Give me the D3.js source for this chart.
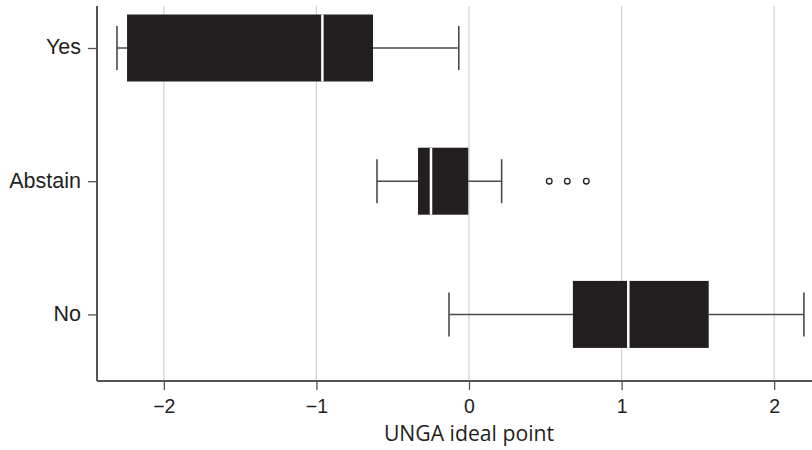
<!DOCTYPE html>
<html>
<head>
<meta charset="utf-8">
<script src="https://cdn.jsdelivr.net/npm/d3@7"></script>
<style>
  html, body { margin: 0; padding: 0; background: #fff; }
  svg { display: block; font-family: "Open Sans", "Noto Sans", sans-serif; }
</style>
</head>
<body>
<svg id="chart" width="812" height="450"></svg>
<script>
// Vote categories and their box-plot summaries of UNGA ideal points
const categories = ["Yes", "Abstain", "No"];
const whiskerLow = [-2.307, -0.603, -0.131];
const quartile1 = [-2.241, -0.334, 0.681];
const medians = [-0.961, -0.249, 1.044];
const quartile3 = [-0.629, -0.005, 1.571];
const whiskerHigh = [-0.067, 0.214, 2.195];
const outliers = [[], [0.526, 0.644, 0.769], []];
const xTicks = [-2, -1, 0, 1, 2];
const xTitle = "UNGA ideal point";

const svg = d3.select("#chart");
const plotLeft = 97, plotRight = 812, plotTop = 6, plotBottom = 381;

const x = d3.scaleLinear().domain([-2.438, 2.248]).range([plotLeft, plotRight]);
const y = d3.scalePoint().domain(categories).range([48, 314.4]);

const boxH = 67, capH = 44;
const ink = "#231f20", axisCol = "#555", gridCol = "#d0d0d0";

// vertical gridlines
svg.append("g").selectAll("line").data(xTicks).join("line")
  .attr("x1", d => x(d)).attr("x2", d => x(d))
  .attr("y1", plotTop).attr("y2", plotBottom)
  .attr("stroke", gridCol).attr("stroke-width", 1.2);

// x axis
const xAxis = svg.append("g").attr("transform", `translate(0,${plotBottom})`)
  .call(d3.axisBottom(x).tickValues(xTicks).tickSize(9).tickSizeOuter(0)
    .tickFormat(d => d < 0 ? "\u2212" + Math.abs(d) : String(d)));
xAxis.select(".domain").remove();
xAxis.selectAll(".tick line").attr("stroke", axisCol).attr("stroke-width", 1.3);
xAxis.selectAll(".tick text").attr("font-size", 19.5).attr("fill", ink).attr("dy", "1.05em");
svg.append("line").attr("x1", plotLeft).attr("x2", plotRight).attr("y1", plotBottom).attr("y2", plotBottom)
  .attr("stroke", axisCol).attr("stroke-width", 2);

// y axis
const yAxis = svg.append("g").attr("transform", `translate(${plotLeft},0)`)
  .call(d3.axisLeft(y).tickSize(9).tickPadding(7).tickSizeOuter(0));
yAxis.select(".domain").remove();
yAxis.selectAll(".tick line").attr("stroke", axisCol).attr("stroke-width", 1.3);
yAxis.selectAll(".tick text").attr("font-size", 21.5).attr("fill", ink).attr("dy", "0.27em");
svg.append("line").attr("x1", plotLeft).attr("x2", plotLeft).attr("y1", plotTop).attr("y2", plotBottom)
  .attr("stroke", axisCol).attr("stroke-width", 2);

// axis title
svg.append("text").attr("x", x(0)).attr("y", 441).attr("text-anchor", "middle")
  .attr("font-size", 21.2).attr("fill", ink).text(xTitle);

// boxes, whiskers, medians and outliers
const rows = categories.map((c, i) => ({
  c, lo: whiskerLow[i], q1: quartile1[i], med: medians[i], q3: quartile3[i], hi: whiskerHigh[i], out: outliers[i]
}));
const g = svg.append("g").selectAll("g").data(rows).join("g");

g.append("line")
  .attr("x1", d => x(d.lo)).attr("x2", d => x(d.q1))
  .attr("y1", d => y(d.c)).attr("y2", d => y(d.c))
  .attr("stroke", "#4a4a4a").attr("stroke-width", 1.5);
g.append("line")
  .attr("x1", d => x(d.q3)).attr("x2", d => x(d.hi))
  .attr("y1", d => y(d.c)).attr("y2", d => y(d.c))
  .attr("stroke", "#4a4a4a").attr("stroke-width", 1.5);
g.selectAll(".cap").data(d => [d.lo, d.hi].map(v => ({ v, c: d.c }))).join("line")
  .attr("class", "cap")
  .attr("x1", d => x(d.v)).attr("x2", d => x(d.v))
  .attr("y1", d => y(d.c) - capH / 2).attr("y2", d => y(d.c) + capH / 2)
  .attr("stroke", "#4a4a4a").attr("stroke-width", 1.6);
g.append("rect")
  .attr("x", d => x(d.q1)).attr("width", d => x(d.q3) - x(d.q1))
  .attr("y", d => y(d.c) - boxH / 2).attr("height", boxH)
  .attr("fill", ink);
g.append("line")
  .attr("x1", d => x(d.med)).attr("x2", d => x(d.med))
  .attr("y1", d => y(d.c) - boxH / 2).attr("y2", d => y(d.c) + boxH / 2)
  .attr("stroke", "#fff").attr("stroke-width", 2.5);
g.selectAll("circle").data(d => d.out.map(v => ({ v, c: d.c }))).join("circle")
  .attr("cx", d => x(d.v)).attr("cy", d => y(d.c)).attr("r", 2.8)
  .attr("fill", "none").attr("stroke", ink).attr("stroke-width", 1.3);
</script>
</body>
</html>
